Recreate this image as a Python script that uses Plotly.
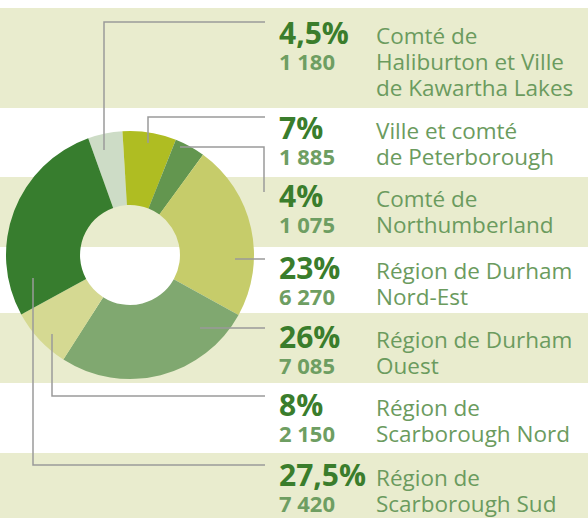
import plotly.graph_objects as go

# ---- data ----
regions = [
    "Comté de<br>Haliburton et Ville<br>de Kawartha Lakes",
    "Ville et comté<br>de Peterborough",
    "Comté de<br>Northumberland",
    "Région de Durham<br>Nord-Est",
    "Région de Durham<br>Ouest",
    "Région de<br>Scarborough Nord",
    "Région de<br>Scarborough Sud",
]
percent_values = [4.5, 7, 4, 23, 26, 8, 27.5]
percent_labels = ["4,5%", "7%", "4%", "23%", "26%", "8%", "27,5%"]
counts = [1180, 1885, 1075, 6270, 7085, 2150, 7420]

# ---- styling ----
slice_colors = ["#cddcc6", "#afbd22", "#63964f", "#c6cc6a", "#80a870", "#d5d992", "#377d2e"]
band_color = "#e9ecce"
pct_color = "#3a7d2c"
count_color = "#6e9e62"
label_color = "#6b9b5e"
line_color = "#9a9a9a"
FONT = "Open Sans"
ASC = 1.069

W, H = 588, 518
def X(px):
    return px / W
def Y(py):
    return 1 - py / H

# first-line baselines (pixels) of each row
row_base1 = [44, 139, 207, 279, 348, 416, 486]
BASE_SIZE = 20  # line pitch = 1.3 * 20 = 26 px
bands = [(8, 108), (177, 247), (313, 383), (453, 518)]
leaders = [
    [(104, 150), (104, 22), (265, 22)],
    [(148, 143), (148, 117), (265, 117)],
    [(180, 147), (264, 147), (264, 192)],
    [(235, 259), (265, 259)],
    [(200, 328), (265, 328)],
    [(52, 334), (52, 396), (265, 396)],
    [(33, 278), (33, 465), (265, 465)],
]

fig = go.Figure()
fig.add_trace(go.Pie(
    values=percent_values,
    labels=[r.replace("<br>", " ") for r in regions],
    sort=False,
    direction="clockwise",
    rotation=-19.7,
    hole=0.403,
    marker=dict(colors=slice_colors, line=dict(width=0)),
    textinfo="none",
    hoverinfo="label+percent",
    showlegend=False,
    domain=dict(x=[X(6), X(254)], y=[Y(379), Y(131)]),
))

shapes = []
for (t, b) in bands:
    shapes.append(dict(type="rect", xref="paper", yref="paper",
                       x0=0, x1=1, y0=Y(b), y1=Y(t),
                       fillcolor=band_color, line=dict(width=0), layer="below"))
for pts in leaders:
    path = "M " + " L ".join(f"{X(a)},{Y(b)}" for a, b in pts)
    shapes.append(dict(type="path", xref="paper", yref="paper", path=path,
                       line=dict(color=line_color, width=1.5), layer="above"))

def text_ann(text, xpx, baseline, first_size, color):
    return dict(
        text=text, x=X(xpx), y=Y(baseline - ASC * first_size),
        xref="paper", yref="paper", xanchor="left", yanchor="top", align="left",
        showarrow=False, borderpad=0, borderwidth=0,
        font=dict(family=FONT, size=BASE_SIZE, color=color))

annotations = []
PCT_SIZE, CNT_SIZE, LBL_SIZE = 30, 22, 22.5
for i in range(len(regions)):
    cnt = f"{counts[i]:,}".replace(",", " ")
    num_text = (f"<span style='font-size:{PCT_SIZE}px;color:{pct_color}'><b>{percent_labels[i]}</b></span>"
                f"<br><span style='font-size:{CNT_SIZE}px;color:{count_color}'><b>{cnt}</b></span>")
    annotations.append(text_ann(num_text, 279, row_base1[i], PCT_SIZE, pct_color))
    lbl_text = "<br>".join(f"<span style='font-size:{LBL_SIZE}px'>{ln}</span>"
                           for ln in regions[i].split("<br>"))
    annotations.append(text_ann(lbl_text, 376, row_base1[i], LBL_SIZE, label_color))

fig.update_layout(
    width=W, height=H,
    margin=dict(l=0, r=0, t=0, b=0),
    paper_bgcolor="white", plot_bgcolor="white",
    shapes=shapes, annotations=annotations,
    showlegend=False,
)
fig.write_html("out.html", config={"displayModeBar": False},
               post_script="document.body.style.margin='0';")
